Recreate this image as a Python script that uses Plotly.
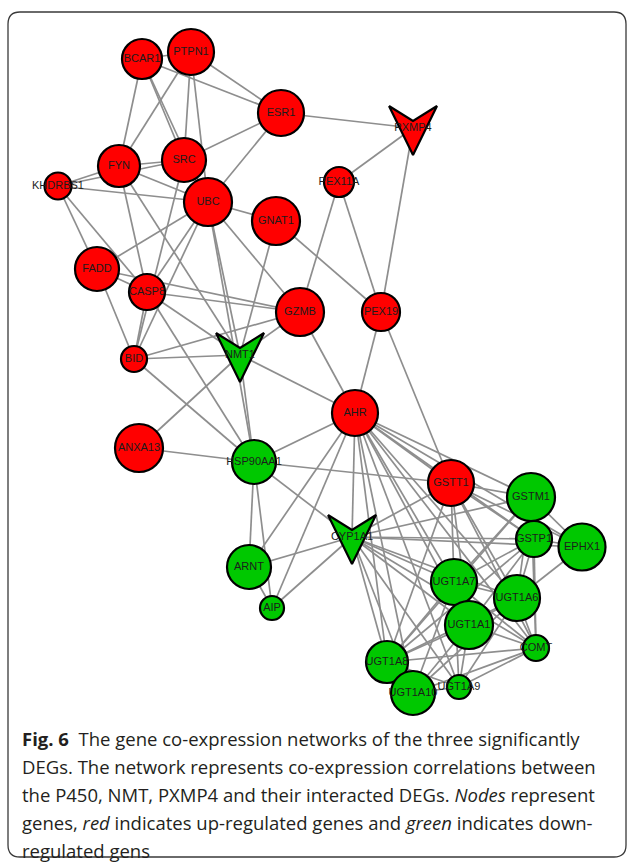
import plotly.graph_objects as go

# ---------------- data ----------------
node_names = ["PTPN1", "BCAR1", "ESR1", "PXMP4", "FYN", "SRC", "KHDRBS1", "PEX11A",
              "UBC", "GNAT1", "FADD", "CASP8", "GZMB", "PEX19", "BID", "NMT1",
              "AHR", "ANXA13", "HSP90AA1", "GSTT1", "GSTM1", "CYP1A1", "GSTP1",
              "EPHX1", "ARNT", "UGT1A7", "UGT1A6", "AIP", "UGT1A1", "COMT",
              "UGT1A8", "UGT1A10", "UGT1A9"]
node_x = [191, 142, 281, 413, 119, 184, 58, 339, 208, 276, 97, 147, 300, 381, 134, 240,
          355, 139, 254, 451, 531, 352, 534, 582, 249, 454, 517, 272, 469, 536,
          387, 413, 459]
node_y = [52, 59, 113, 128, 166, 160, 186, 182, 202, 221, 269, 292, 312, 312, 359, 355,
          413, 448, 462, 483, 497, 537, 539, 547, 567, 582, 598, 608, 625, 648,
          662, 693, 687]
node_size = [46, 40, 46, 0, 42, 44, 27, 30, 48, 48, 44, 36, 48, 38, 26, 0,
             46, 48, 44, 46, 48, 0, 36, 47, 44, 46, 46, 24, 48, 26,
             42, 44, 24]
node_reg = ["up"] * 15 + ["down"] + ["up", "up", "down", "up", "down", "down", "down",
            "down", "down", "down", "down", "down", "down", "down", "down", "down", "down"]
hub_genes = ["PXMP4", "NMT1", "CYP1A1"]

edges = [
    ("PTPN1", "BCAR1"), ("BCAR1", "ESR1"), ("PTPN1", "ESR1"), ("BCAR1", "FYN"),
    ("BCAR1", "SRC"), ("BCAR1", "UBC"), ("PTPN1", "FYN"), ("PTPN1", "SRC"),
    ("PTPN1", "UBC"), ("SRC", "ESR1"), ("ESR1", "UBC"), ("ESR1", "PXMP4"),
    ("FYN", "SRC"), ("FYN", "KHDRBS1"), ("KHDRBS1", "SRC"), ("KHDRBS1", "UBC"),
    ("FYN", "UBC"), ("SRC", "UBC"),
    ("PXMP4", "PEX11A"), ("PXMP4", "PEX19"), ("PEX11A", "GZMB"), ("PEX11A", "PEX19"),
    ("UBC", "GNAT1"), ("UBC", "GZMB"), ("GNAT1", "PEX19"), ("GNAT1", "NMT1"),
    ("UBC", "NMT1"), ("UBC", "FADD"), ("UBC", "CASP8"), ("UBC", "BID"),
    ("UBC", "HSP90AA1"), ("SRC", "BID"),
    ("GZMB", "AHR"), ("PEX19", "AHR"), ("PEX19", "GSTT1"),
    ("GZMB", "NMT1"), ("GZMB", "CASP8"), ("GZMB", "FADD"), ("GZMB", "BID"),
    ("NMT1", "BID"), ("NMT1", "CASP8"), ("NMT1", "ANXA13"), ("NMT1", "HSP90AA1"),
    ("NMT1", "AHR"), ("KHDRBS1", "FADD"), ("KHDRBS1", "CASP8"), ("FYN", "CASP8"),
    ("FYN", "NMT1"), ("FADD", "CASP8"), ("FADD", "BID"), ("CASP8", "BID"),
    ("CASP8", "HSP90AA1"), ("BID", "HSP90AA1"), ("ANXA13", "HSP90AA1"),
    ("HSP90AA1", "AHR"), ("HSP90AA1", "GSTT1"), ("HSP90AA1", "CYP1A1"),
    ("HSP90AA1", "ARNT"), ("HSP90AA1", "AIP"),
    ("AHR", "CYP1A1"), ("AHR", "ARNT"), ("AHR", "AIP"), ("AHR", "GSTT1"),
    ("AHR", "GSTM1"), ("AHR", "GSTP1"), ("AHR", "EPHX1"), ("AHR", "UGT1A7"),
    ("AHR", "UGT1A6"), ("AHR", "UGT1A1"), ("AHR", "UGT1A8"), ("AHR", "UGT1A10"),
    ("AHR", "UGT1A9"), ("AHR", "COMT"),
    ("CYP1A1", "ARNT"), ("CYP1A1", "AIP"), ("CYP1A1", "GSTT1"), ("CYP1A1", "GSTM1"),
    ("CYP1A1", "GSTP1"), ("CYP1A1", "EPHX1"), ("CYP1A1", "UGT1A7"),
    ("CYP1A1", "UGT1A6"), ("CYP1A1", "UGT1A1"), ("CYP1A1", "UGT1A8"),
    ("CYP1A1", "UGT1A10"), ("CYP1A1", "UGT1A9"), ("CYP1A1", "COMT"),
    ("ARNT", "AIP"),
    ("GSTT1", "GSTM1"), ("GSTT1", "GSTP1"), ("GSTT1", "EPHX1"), ("GSTT1", "UGT1A7"),
    ("GSTT1", "UGT1A6"), ("GSTT1", "UGT1A1"), ("GSTT1", "COMT"), ("GSTT1", "UGT1A8"),
    ("GSTM1", "GSTP1"), ("GSTM1", "EPHX1"), ("GSTM1", "UGT1A7"), ("GSTM1", "UGT1A8"),
    ("GSTM1", "UGT1A6"), ("GSTM1", "COMT"),
    ("GSTP1", "EPHX1"), ("GSTP1", "UGT1A6"), ("GSTP1", "UGT1A1"), ("GSTP1", "COMT"),
    ("GSTP1", "UGT1A7"), ("GSTP1", "UGT1A8"), ("EPHX1", "UGT1A6"),
    ("UGT1A7", "UGT1A6"), ("UGT1A7", "UGT1A1"), ("UGT1A7", "UGT1A8"),
    ("UGT1A7", "UGT1A10"), ("UGT1A7", "UGT1A9"), ("UGT1A7", "COMT"),
    ("UGT1A6", "UGT1A1"), ("UGT1A6", "COMT"), ("UGT1A6", "UGT1A8"),
    ("UGT1A6", "UGT1A10"), ("UGT1A6", "UGT1A9"),
    ("UGT1A1", "UGT1A8"), ("UGT1A1", "UGT1A10"), ("UGT1A1", "UGT1A9"),
    ("UGT1A1", "COMT"), ("UGT1A8", "UGT1A10"), ("UGT1A8", "UGT1A9"),
    ("UGT1A8", "COMT"), ("UGT1A10", "UGT1A9"), ("UGT1A10", "COMT"),
    ("UGT1A9", "COMT"),
]

caption_lines = [
    "<b>Fig. 6</b>\u00a0\u00a0The gene co-expression networks of the three significantly",
    "DEGs. The network represents co-expression correlations between",
    "the P450, NMT, PXMP4 and their interacted DEGs. <i>Nodes</i> represent",
    "genes, <i>red</i> indicates up-regulated genes and <i>green</i> indicates down-",
    "regulated gens",
]

# ---------------- styles ----------------
W, H = 627, 862
RED, GREEN = "#ff0000", "#00c800"
EDGE_COLOR = "#8e8e8e"
colors = {"up": RED, "down": GREEN}
pos = {n: (x, y) for n, x, y in zip(node_names, node_x, node_y)}

fig = go.Figure()

# edges
ex, ey = [], []
for a, b in edges:
    ex += [pos[a][0], pos[b][0], None]
    ey += [pos[a][1], pos[b][1], None]
fig.add_trace(go.Scatter(x=ex, y=ey, mode="lines",
                         line=dict(color=EDGE_COLOR, width=1.7),
                         hoverinfo="skip", showlegend=False))

# chevron (V) shaped hub genes
chev_dx = [-24, 0, 24, 0, -24]
chev_dy = [-22, -7, -22, 27, -22]
for n, x, y, reg in zip(node_names, node_x, node_y, node_reg):
    if n in hub_genes:
        fig.add_trace(go.Scatter(
            x=[x + d for d in chev_dx], y=[y + d for d in chev_dy],
            mode="lines", fill="toself", fillcolor=colors[reg],
            line=dict(color="black", width=2.2), hoverinfo="skip", showlegend=False))

# circular nodes
cx = [x for n, x in zip(node_names, node_x) if n not in hub_genes]
cy = [y for n, y in zip(node_names, node_y) if n not in hub_genes]
cs = [s for n, s in zip(node_names, node_size) if n not in hub_genes]
cc = [colors[r] for n, r in zip(node_names, node_reg) if n not in hub_genes]
fig.add_trace(go.Scatter(x=cx, y=cy, mode="markers",
                         marker=dict(size=cs, color=cc, opacity=1,
                                     line=dict(color="black", width=2.2)),
                         hoverinfo="skip", showlegend=False))

# labels
fig.add_trace(go.Scatter(x=node_x, y=node_y, mode="text", text=node_names,
                         textposition="middle center",
                         textfont=dict(family="Liberation Sans, Arial", size=11,
                                       color="#1c1c1c"),
                         hoverinfo="skip", showlegend=False))

# caption
cap_y = [738, 766, 794, 822, 850]
for t, yy in zip(caption_lines, cap_y):
    fig.add_annotation(x=20, y=yy, xref="x", yref="y", text=t, showarrow=False,
                       xanchor="left", yanchor="middle", align="left",
                       font=dict(family="Open Sans", size=18.5, color="#231f20"))

# rounded frame
x0, y0, x1, y1, r = 8, 12, 626, 857, 12
path = (f"M{x0+r},{y0} L{x1-r},{y0} Q{x1},{y0} {x1},{y0+r} L{x1},{y1-r} "
        f"Q{x1},{y1} {x1-r},{y1} L{x0+r},{y1} Q{x0},{y1} {x0},{y1-r} "
        f"L{x0},{y0+r} Q{x0},{y0} {x0+r},{y0} Z")
fig.add_shape(type="path", path=path, xref="x", yref="y",
              line=dict(color="#3a3a3a", width=1.3), layer="below")

fig.update_layout(
    width=W, height=H, margin=dict(l=0, r=0, t=0, b=0),
    paper_bgcolor="white", plot_bgcolor="white",
    xaxis=dict(range=[0, W], visible=False, fixedrange=True),
    yaxis=dict(range=[H, 0], visible=False, fixedrange=True),
)

fig.write_html("out.html", config={"displayModeBar": False},
               post_script="document.body.style.margin='0px';"
                           "document.body.style.overflow='hidden';")
